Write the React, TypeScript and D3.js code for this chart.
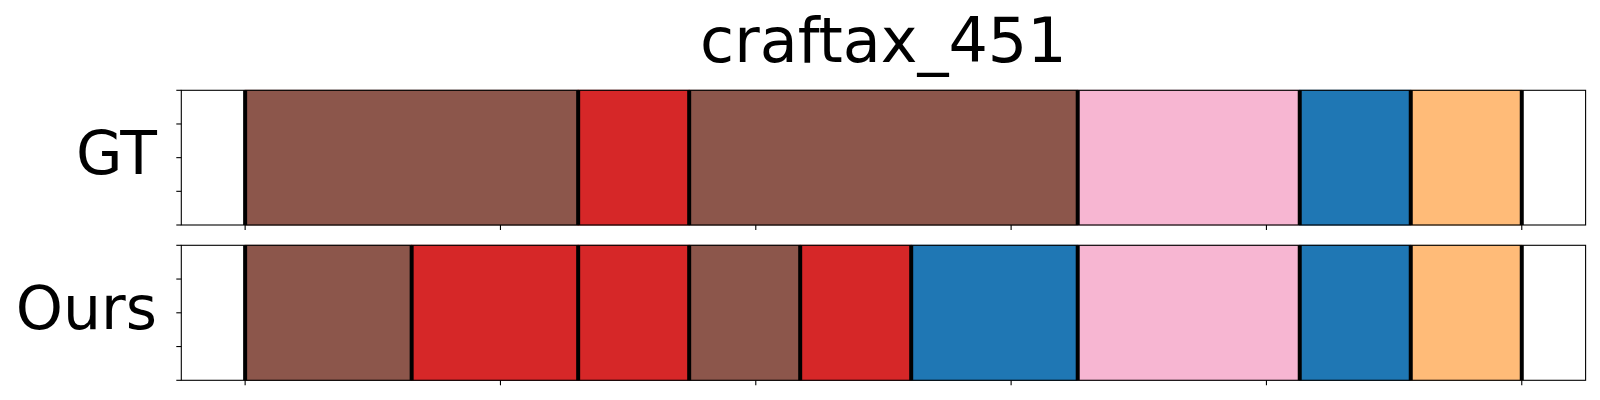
import React from "react";
import * as d3 from "d3";

const title = "craftax_451";
const rowLabels = ["GT", "Ours"];
const colorMap: Record<string, string> = {
  brown: "#8c564b",
  red: "#d62728",
  pink: "#f7b6d2",
  blue: "#1f77b4",
  orange: "#ffbb78",
};
const gtSegments = ["brown", "red", "brown", "pink", "blue", "orange"];
const gtLengths = [6, 2, 7, 4, 2, 2];
const oursSegments = ["brown", "red", "red", "brown", "red", "blue", "pink", "blue", "orange"];
const oursLengths = [3, 3, 2, 2, 2, 3, 4, 2, 2];
const xTicks = [0, 0.2, 0.4, 0.6, 0.8, 1.0];
const yTicks = [0, 0.25, 0.5, 0.75, 1.0];

const W = 1600;
const H = 400;
const left = 181.3;
const right = 1585.6;
const panels = [
  { top: 90.3, bottom: 225 },
  { top: 245.3, bottom: 380.3 },
];

function toSegs(names: string[], lengths: number[]) {
  const total = d3.sum(lengths);
  let acc = 0;
  return names.map((n, i) => {
    const s = acc / total;
    acc += lengths[i];
    return { name: n, start: s, end: acc / total };
  });
}

export default function App() {
  const x = d3.scaleLinear().domain([-0.05, 1.05]).range([left, right]);
  const rows = [toSegs(gtSegments, gtLengths), toSegs(oursSegments, oursLengths)];
  const font = "DejaVu Sans, sans-serif";
  return (
    <svg
      width={W}
      height={H}
      style={{ position: "absolute", left: 0, top: 0, background: "#fff" }}
    >
      <text
        x={(left + right) / 2}
        y={62}
        textAnchor="middle"
        fontFamily={font}
        fontSize={62}
        fill="#000"
      >
        {title}
      </text>
      {panels.map((p, pi) => {
        const y = d3.scaleLinear().domain([0, 1]).range([p.bottom, p.top]);
        const segs = rows[pi];
        const bounds = [segs[0].start, ...segs.map((s) => s.end)];
        return (
          <g key={pi}>
            {segs.map((s, i) => (
              <rect
                key={i}
                x={x(s.start)}
                y={y(1)}
                width={x(s.end) - x(s.start)}
                height={y(0) - y(1)}
                fill={colorMap[s.name]}
                stroke={d3.color(colorMap[s.name])!.darker(0.4).toString()}
                strokeWidth={1}
              />
            ))}
            {bounds.map((b, i) => (
              <line
                key={"v" + i}
                x1={x(b)}
                x2={x(b)}
                y1={y(1)}
                y2={y(0)}
                stroke="#000"
                strokeWidth={4}
              />
            ))}
            <rect
              x={left}
              y={p.top}
              width={right - left}
              height={p.bottom - p.top}
              fill="none"
              stroke="#000"
              strokeWidth={1.1}
            />
            {xTicks.map((t, i) => (
              <line
                key={"xt" + i}
                x1={x(t)}
                x2={x(t)}
                y1={p.bottom}
                y2={p.bottom + 5}
                stroke="#000"
                strokeWidth={1.1}
              />
            ))}
            {yTicks.map((t, i) => (
              <line
                key={"yt" + i}
                x1={left - 5}
                x2={left}
                y1={y(t)}
                y2={y(t)}
                stroke="#000"
                strokeWidth={1.1}
              />
            ))}
            <text
              x={157}
              y={(p.top + p.bottom) / 2 + 16}
              textAnchor="end"
              fontFamily={font}
              fontSize={60}
              fill="#000"
            >
              {rowLabels[pi]}
            </text>
          </g>
        );
      })}
    </svg>
  );
}
